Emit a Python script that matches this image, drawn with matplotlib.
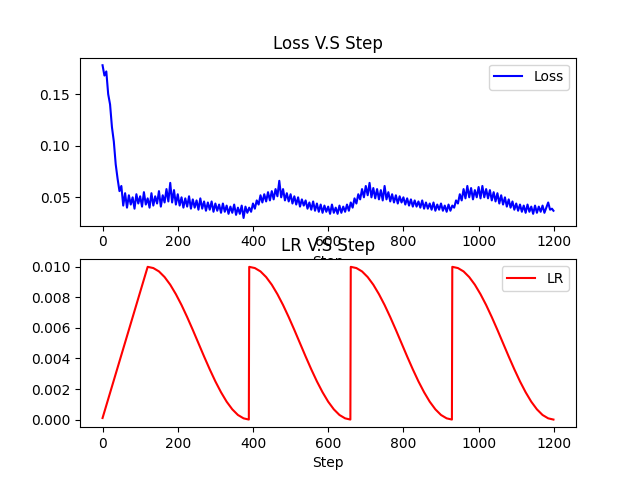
import matplotlib
matplotlib.use("Agg")
import matplotlib.pyplot as plt

loss_steps = list(range(0, 1200, 5)) + [1199]
loss_vals = [
    0.178, 0.168, 0.172, 0.150, 0.140, 0.118, 0.104, 0.082, 0.068, 0.056,
    0.061, 0.042, 0.054, 0.040, 0.052, 0.043, 0.050, 0.039, 0.053, 0.044,
    0.051, 0.041, 0.055, 0.043, 0.049, 0.040, 0.054, 0.042, 0.051, 0.044,
    0.056, 0.041, 0.052, 0.045, 0.058, 0.046, 0.064, 0.045, 0.057, 0.043,
    0.053, 0.042, 0.050, 0.040, 0.049, 0.041, 0.051, 0.039, 0.048, 0.040,
    0.047, 0.038, 0.049, 0.039, 0.046, 0.037, 0.045, 0.038, 0.046, 0.036,
    0.044, 0.037, 0.043, 0.035, 0.044, 0.036, 0.042, 0.034, 0.041, 0.035,
    0.043, 0.033, 0.040, 0.034, 0.042, 0.030, 0.041, 0.035, 0.040, 0.036,
    0.044, 0.039, 0.047, 0.043, 0.052, 0.045, 0.053, 0.046, 0.055, 0.047,
    0.056, 0.048, 0.058, 0.051, 0.066, 0.050, 0.058, 0.047, 0.054, 0.046,
    0.053, 0.044, 0.051, 0.043, 0.050, 0.041, 0.048, 0.042, 0.047, 0.039,
    0.045, 0.038, 0.046, 0.037, 0.044, 0.036, 0.043, 0.035, 0.042, 0.036,
    0.041, 0.034, 0.043, 0.035, 0.040, 0.034, 0.042, 0.035, 0.041, 0.036,
    0.043, 0.037, 0.045, 0.040, 0.049, 0.044, 0.053, 0.048, 0.058, 0.050,
    0.061, 0.052, 0.064, 0.050, 0.059, 0.049, 0.058, 0.048, 0.057, 0.047,
    0.061, 0.048, 0.055, 0.046, 0.053, 0.045, 0.052, 0.044, 0.051, 0.045,
    0.050, 0.043, 0.049, 0.042, 0.048, 0.041, 0.047, 0.041, 0.046, 0.040,
    0.047, 0.039, 0.045, 0.039, 0.044, 0.038, 0.045, 0.037, 0.043, 0.038,
    0.044, 0.037, 0.042, 0.036, 0.043, 0.037, 0.042, 0.040, 0.047, 0.044,
    0.053, 0.047, 0.058, 0.049, 0.061, 0.050, 0.059, 0.048, 0.057, 0.050,
    0.060, 0.049, 0.061, 0.050, 0.058, 0.049, 0.057, 0.047, 0.055, 0.046,
    0.054, 0.044, 0.052, 0.043, 0.050, 0.041, 0.048, 0.040, 0.046, 0.038,
    0.044, 0.037, 0.043, 0.036, 0.042, 0.035, 0.043, 0.036, 0.041, 0.034,
    0.042, 0.035, 0.041, 0.036, 0.042, 0.035, 0.040, 0.045, 0.038, 0.039,
    0.037,
]

# Learning rate: linear warm-up, then cosine cycles with restarts
warmup_steps = [0, 60]
warmup_vals = [0.0001, 0.00505]
cycle_starts = [120, 390, 660, 930]
cycle_offsets = [0, 15, 30, 45, 60, 75, 90, 105, 120, 135, 150, 165, 180, 195,
                 210, 225, 240, 255, 269]
cycle_vals = [0.01000, 0.00992, 0.00970, 0.00933, 0.00883, 0.00821, 0.00750,
              0.00671, 0.00587, 0.00500, 0.00413, 0.00329, 0.00250, 0.00179,
              0.00117, 0.00067, 0.00030, 0.00008, 0.00000]

lr_steps = list(warmup_steps)
lr_vals = list(warmup_vals)
for s0 in cycle_starts:
    lr_steps += [s0 + o for o in cycle_offsets]
    lr_vals += cycle_vals

fig = plt.figure(figsize=(6.4, 4.8), dpi=100)

ax1 = plt.subplot(2, 1, 1)
ax1.plot(loss_steps, loss_vals, color="blue", label="Loss")
ax1.set_title("Loss V.S Step")
ax1.set_xlabel("Step")
ax1.legend(loc="upper right")

ax2 = plt.subplot(2, 1, 2)
ax2.plot(lr_steps, lr_vals, color="red", label="LR")
ax2.set_title("LR V.S Step")
ax2.set_xlabel("Step")
ax2.legend(loc="upper right")

fig.savefig("out.png", dpi=100)
